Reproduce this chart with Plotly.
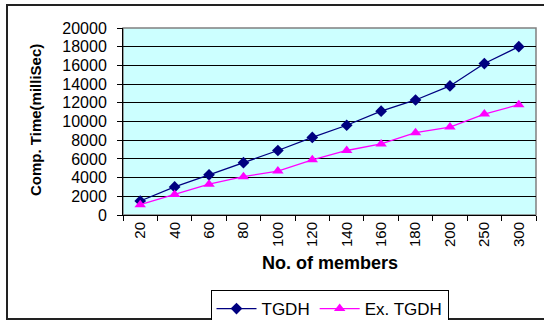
import plotly.graph_objects as go

# Group size (number of members) on the category axis
members = ["20", "40", "60", "80", "100", "120", "140", "160", "180", "200", "250", "300"]

# Computation time in milliseconds for each scheme
tgdh = [1500, 3000, 4300, 5600, 6900, 8300, 9600, 11100, 12300, 13800, 16200, 18000]
ex_tgdh = [1100, 2200, 3300, 4100, 4700, 5900, 6900, 7600, 8800, 9400, 10800, 11800]

y_ticks = list(range(0, 20001, 2000))
y_labels = [str(v) for v in y_ticks]

W, H = 544, 320
L, R, T, B = 123, 8, 28, 105
pw, ph = W - L - R, H - T - B


def px_x(x):
    return (x - L) / pw


def px_y(y):
    return (H - B - y) / ph


font = "Liberation Sans, Arial, sans-serif"

fig = go.Figure()
fig.add_trace(go.Scatter(
    x=members, y=tgdh, name="TGDH", mode="lines+markers",
    line=dict(color="#000080", width=1.3),
    marker=dict(symbol="diamond", size=9, color="#000080"),
))
fig.add_trace(go.Scatter(
    x=members, y=ex_tgdh, name="Ex. TGDH", mode="lines+markers",
    line=dict(color="#FF00FF", width=1.3),
    marker=dict(symbol="triangle-up", size=10, color="#FF00FF"),
))

fig.update_layout(
    width=W, height=H,
    margin=dict(l=L, r=R, t=T, b=B, autoexpand=False),
    paper_bgcolor="white",
    plot_bgcolor="#CCFFFF",
    font=dict(family=font, color="black", size=13),
    showlegend=True,
    legend=dict(
        orientation="h", x=0.5, xanchor="center",
        y=px_y(290), yanchor="top",
        bordercolor="black", borderwidth=1,
        font=dict(size=17), itemwidth=40,
        tracegroupgap=0,
    ),
    xaxis=dict(
        type="category", showgrid=False, zeroline=False, automargin=False,
        showline=True, linecolor="black", linewidth=1,
        ticks="outside", ticklen=5, tickcolor="black",
        tickangle=-90, tickfont=dict(size=15),
        tickson="boundaries",
        range=[-0.5, len(members) - 0.5],
    ),
    yaxis=dict(
        range=[0, 20000], tickvals=y_ticks, ticktext=y_labels, automargin=False,
        showgrid=True, gridcolor="black", gridwidth=1,
        zeroline=False, showline=True, linecolor="black", linewidth=1,
        ticks="outside", ticklen=5, tickcolor="black",
        tickfont=dict(size=16), ticklabelstandoff=7,
    ),
    shapes=[
        # plot area frame
        dict(type="rect", xref="paper", yref="paper", x0=0, x1=1, y0=0, y1=1,
             line=dict(color="#808080", width=1.5), layer="below"),
        # chart border
        dict(type="rect", xref="paper", yref="paper",
             x0=px_x(7), x1=px_x(546), y0=px_y(319), y1=px_y(5),
             line=dict(color="#222222", width=2)),
    ],
    annotations=[
        dict(text="<b>Comp. Time(milliSec)</b>", xref="paper", yref="paper",
             x=px_x(35), y=px_y(120), textangle=-90, showarrow=False,
             font=dict(size=15), xanchor="center", yanchor="middle"),
        dict(text="<b>No. of members</b>", xref="paper", yref="paper",
             x=0.5, y=px_y(263), showarrow=False,
             font=dict(size=18), xanchor="center", yanchor="middle"),
    ],
)

fig.write_html("out.html")
